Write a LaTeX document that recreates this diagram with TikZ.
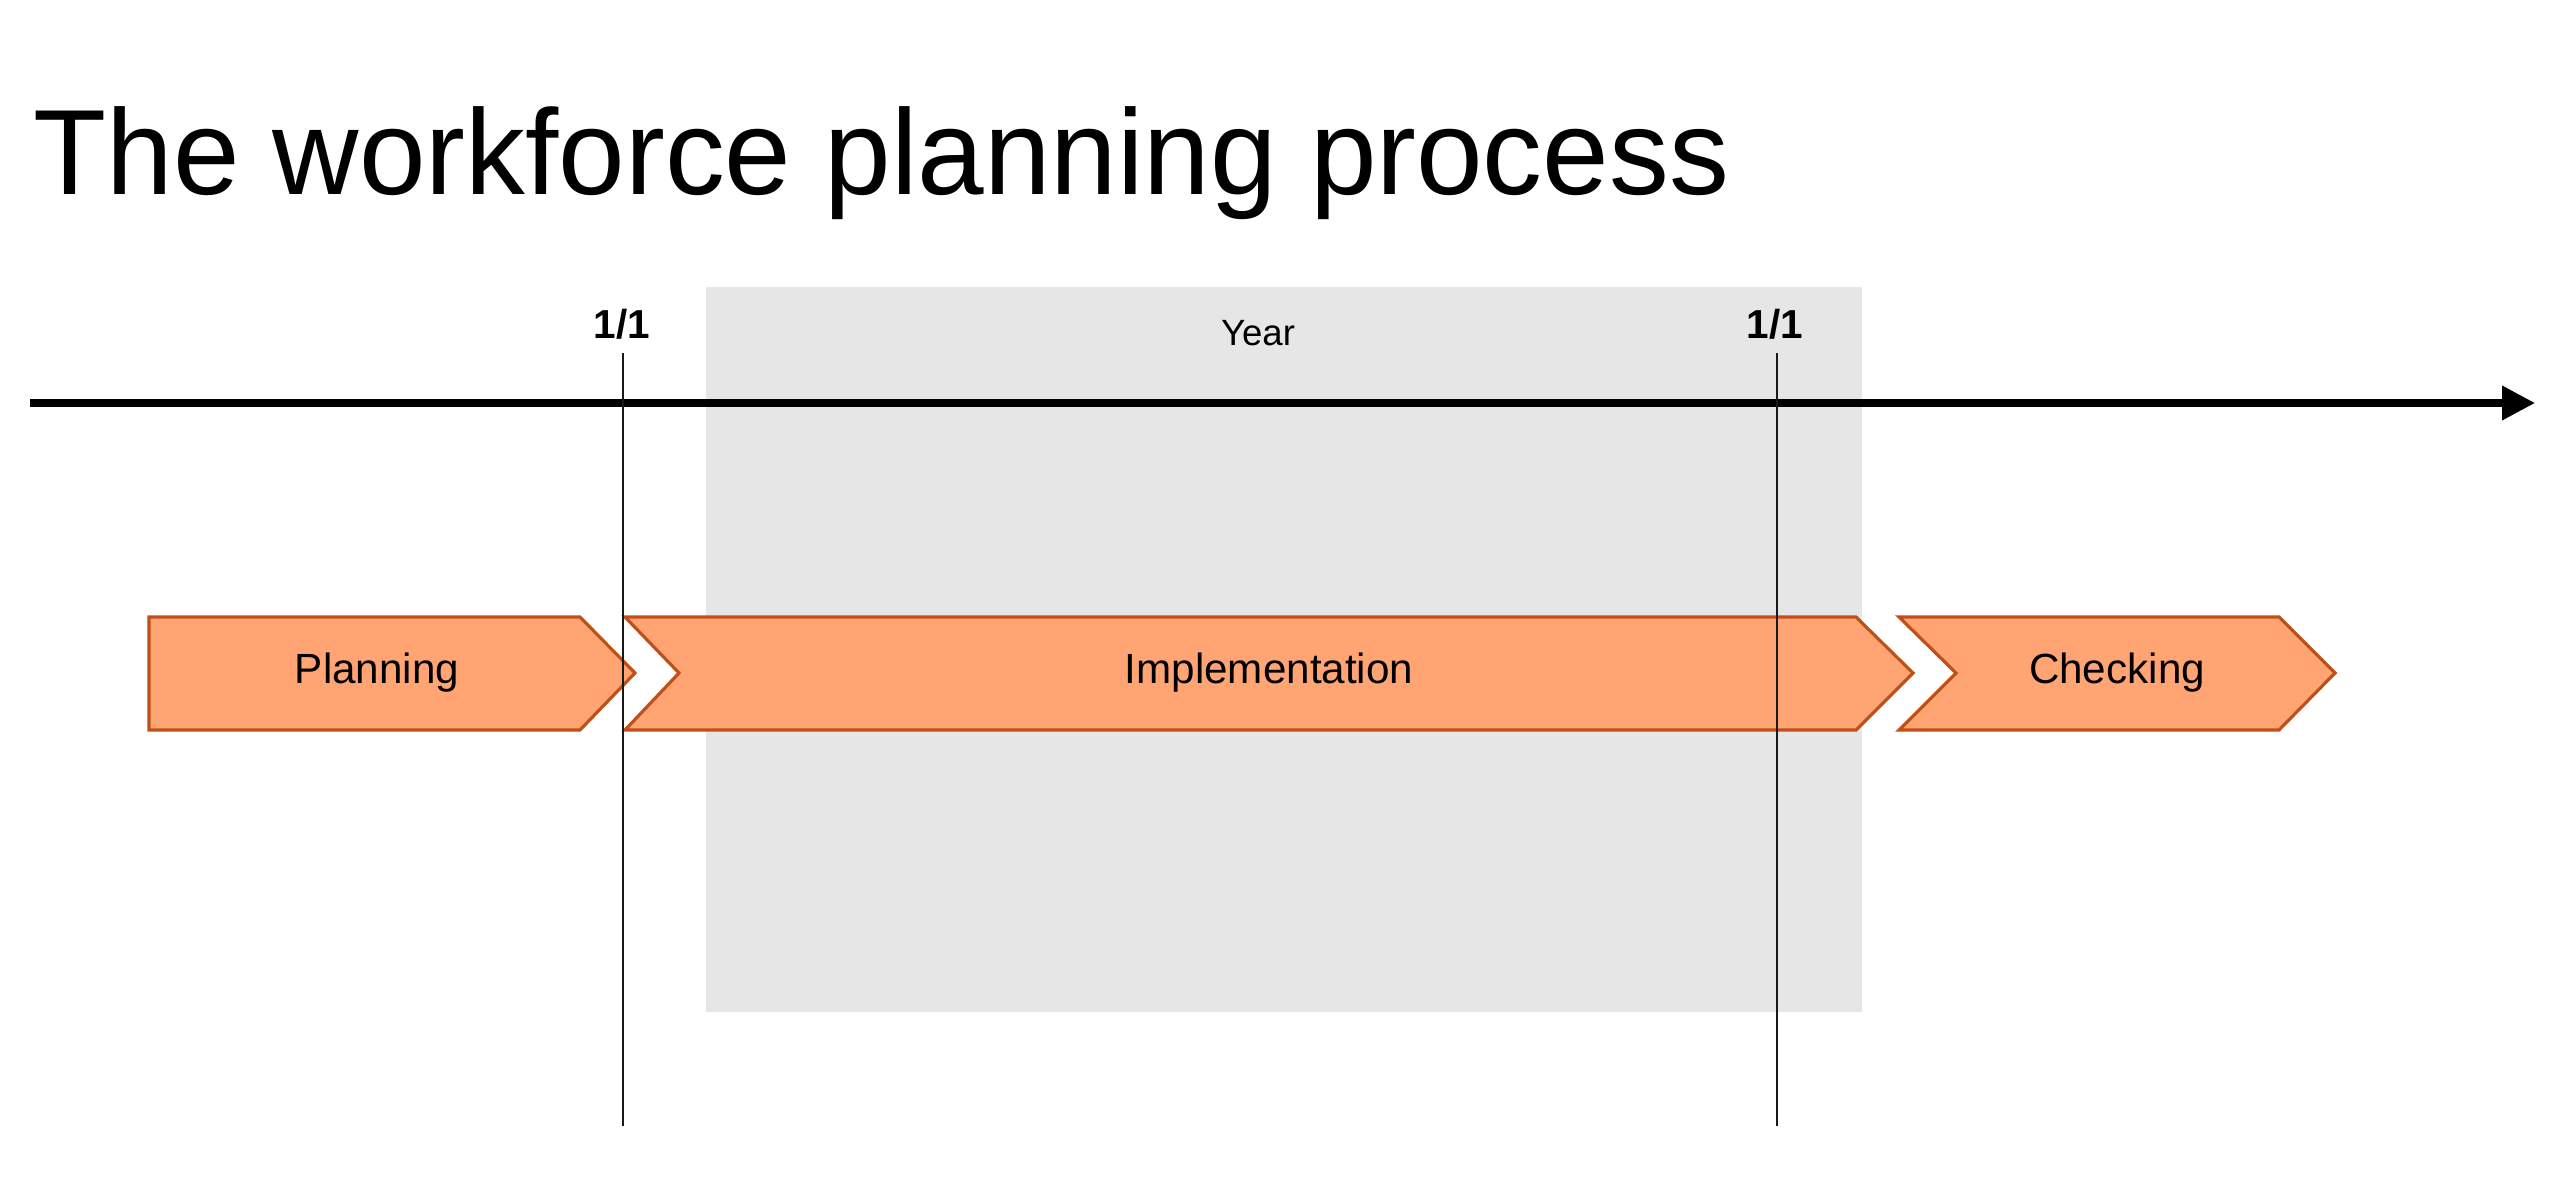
\documentclass[tikz,border=0pt]{standalone}
\usepackage{fontspec}
\setmainfont{Liberation Sans}
\usetikzlibrary{arrows.meta}
\definecolor{chevfill}{HTML}{FFA472}
\definecolor{chevline}{HTML}{C0501A}
\definecolor{yearbg}{HTML}{E6E6E6}
\tikzset{
  chevron/.style={fill=chevfill, draw=chevline, line width=0.9pt, line join=miter},
  chevlabel/.style={font=\fontsize{12}{14}\selectfont, inner sep=0pt},
  datelabel/.style={font=\fontsize{11.5}{14}\selectfont\bfseries, inner sep=0pt, anchor=base},
  marker/.style={draw=black!90, line width=0.55pt},
  timeline/.style={line width=2pt, -{Triangle[length=0.33cm,width=0.33cm]}}
}
\begin{document}
\begin{tikzpicture}[x=0.01cm, y=-0.01cm]
\useasboundingbox (0,0) rectangle (2560,1185);
% title
\node[anchor=base west, inner sep=0pt, xscale=0.986, font=\fontsize{34.5}{40}\selectfont] (title) at (33,195) {The workforce planning process};
% year band
\fill[yearbg] (706,287) rectangle (1862,1012);
\node[anchor=base, inner sep=0pt, font=\fontsize{10.4}{12}\selectfont] (year) at (1258,346) {Year};
% chevrons
\draw[chevron] (149,617) -- (580,617) -- (635,673) -- (580,730) -- (149,730) -- cycle;
\draw[chevron] (625,617) -- (1856,617) -- (1913,673) -- (1856,730) -- (625,730) -- (679,673) -- cycle;
\draw[chevron] (1899,617) -- (2279,617) -- (2335,673) -- (2279,730) -- (1899,730) -- (1956,673) -- cycle;
\node[chevlabel] (plan) at (377,673) {Planning};
\node[chevlabel] (impl) at (1269,673) {Implementation};
\node[chevlabel] (check) at (2117,673) {Checking};
% timeline
\coordinate (tl0) at (30,403);
\coordinate (tl1) at (2535,403);
\draw[timeline] (tl0) -- (tl1);
% date markers
\node[datelabel] (d1) at (622,338) {1/1};
\node[datelabel] (d2) at (1775,338) {1/1};
\coordinate (m1a) at (623,353);
\coordinate (m1b) at (623,1126);
\coordinate (m2a) at (1777,353);
\coordinate (m2b) at (1777,1126);
\draw[marker] (m1a) -- (m1b);
\draw[marker] (m2a) -- (m2b);
\end{tikzpicture}
\end{document}
